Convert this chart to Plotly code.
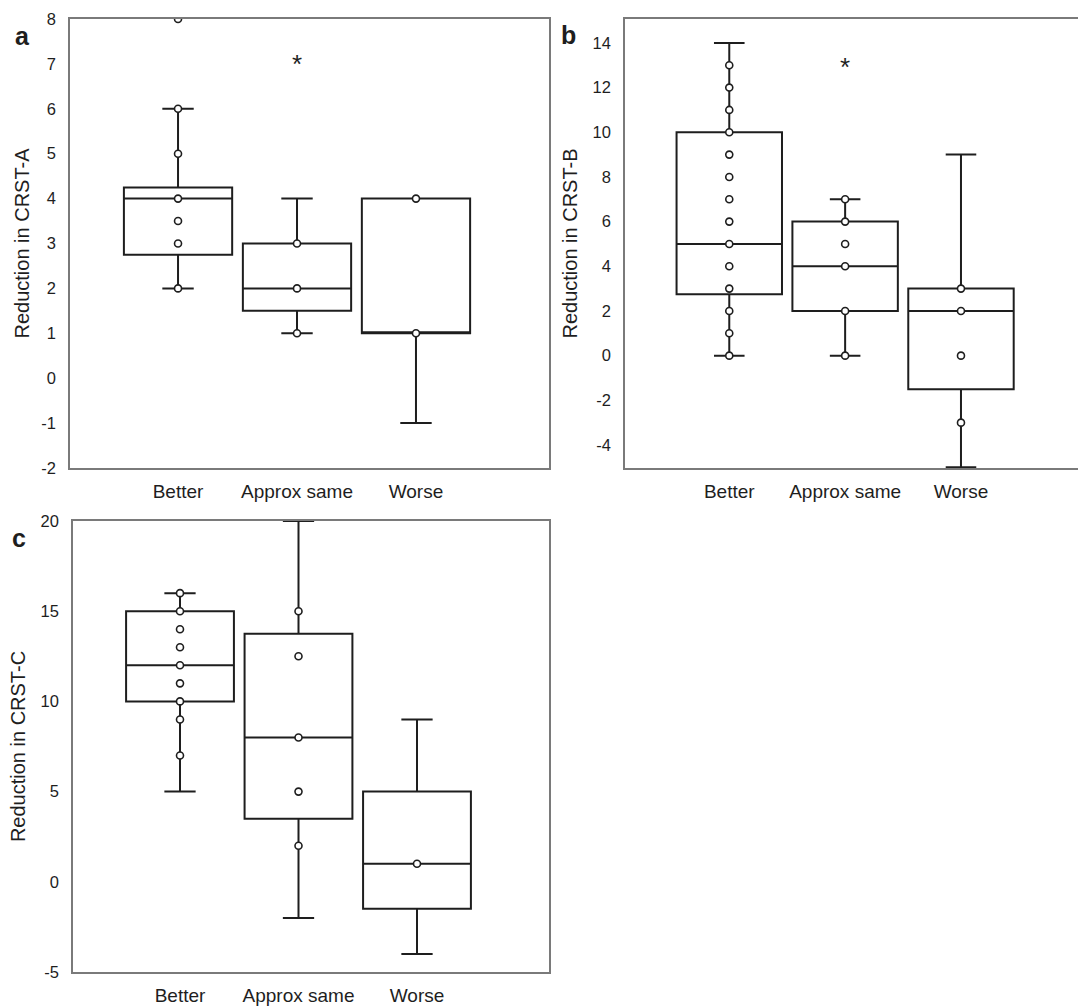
import plotly.graph_objects as go

categories = ["Better", "Approx same", "Worse"]
positions = [0, 1, 2]

# Panel a: CRST-A
a_q1 = [2.75, 1.5, 1.0]
a_median = [4.0, 2.0, 1.0]
a_q3 = [4.25, 3.0, 4.0]
a_low = [2.0, 1.0, -1.0]
a_high = [6.0, 4.0, 4.0]
a_points = [[8, 6, 5, 4, 3.5, 3, 2], [3, 2, 1], [4, 1]]

# Panel b: CRST-B
b_q1 = [2.75, 2.0, -1.5]
b_median = [5.0, 4.0, 2.0]
b_q3 = [10.0, 6.0, 3.0]
b_low = [0.0, 0.0, -5.0]
b_high = [14.0, 7.0, 9.0]
b_points = [[13, 12, 11, 10, 9, 8, 7, 6, 5, 4, 3, 2, 1, 0], [7, 6, 5, 4, 2, 0], [3, 2, 0, -3]]

# Panel c: CRST-C
c_q1 = [10.0, 3.5, -1.5]
c_median = [12.0, 8.0, 1.0]
c_q3 = [15.0, 13.75, 5.0]
c_low = [5.0, -2.0, -4.0]
c_high = [16.0, 20.0, 9.0]
c_points = [[16, 15, 14, 13, 12, 11, 10, 9, 7], [15, 12.5, 8, 5, 2], [1]]

a_ticks = [-2, -1, 0, 1, 2, 3, 4, 5, 6, 7, 8]
b_ticks = [-4, -2, 0, 2, 4, 6, 8, 10, 12, 14]
c_ticks = [-5, 0, 5, 10, 15, 20]

a_star = 7.0
b_star = 12.9

FONT = "Liberation Sans, Arial, sans-serif"
INK = "#1e1e1e"
FRAME = "#7a7a7a"

fig = go.Figure()

panels = [
    ("x", "y", a_q1, a_median, a_q3, a_low, a_high, a_points),
    ("x2", "y2", b_q1, b_median, b_q3, b_low, b_high, b_points),
    ("x3", "y3", c_q1, c_median, c_q3, c_low, c_high, c_points),
]

for xa, ya, q1, med, q3, lo, hi, pts in panels:
    fig.add_trace(go.Box(
        x=positions, q1=q1, median=med, q3=q3, lowerfence=lo, upperfence=hi,
        width=0.91, whiskerwidth=0.29, boxpoints=False,
        line=dict(color=INK, width=2), fillcolor="rgba(255,255,255,0)",
        xaxis=xa, yaxis=ya, showlegend=False, hoverinfo="skip",
    ))
    xs, ys = [], []
    for p, vals in zip(positions, pts):
        for v in vals:
            xs.append(p)
            ys.append(v)
    fig.add_trace(go.Scatter(
        x=xs, y=ys, mode="markers",
        marker=dict(symbol="circle", size=7, color="white",
                    line=dict(color=INK, width=1.6)),
        xaxis=xa, yaxis=ya, showlegend=False, hoverinfo="skip",
    ))

def xax(domain, rng, anchor):
    return dict(domain=domain, range=rng, tickvals=positions, ticktext=categories,
                showline=True, mirror=True, linecolor=FRAME, linewidth=1.5,
                showgrid=False, zeroline=False, ticks="", ticklabelstandoff=5,
                automargin=False,
                tickfont=dict(family=FONT, size=19, color=INK), anchor=anchor)

def yax(domain, rng, ticks, title, anchor, standoff):
    return dict(domain=domain, range=rng, tickvals=ticks,
                ticktext=[str(t) for t in ticks],
                showline=True, mirror=True, linecolor=FRAME, linewidth=1.5,
                showgrid=False, zeroline=False, ticks="", ticklabelstandoff=9,
                automargin=False,
                tickfont=dict(family=FONT, size=16.5, color=INK),
                title=dict(text=title, font=dict(family=FONT, size=20, color=INK),
                           standoff=standoff),
                anchor=anchor)

fig.update_layout(
    template="none",
    width=1078, height=1006,
    margin=dict(l=0, r=0, t=0, b=0, autoexpand=False),
    paper_bgcolor="white", plot_bgcolor="white",
    xaxis=xax([70/1078, 549/1078], [-0.908, 3.118], "y"),
    yaxis=yax([1-468/1006, 1-19/1006], [-2, 8], a_ticks, "Reduction in CRST-A", "x", 6),
    xaxis2=xax([625/1078, 1.0], [-0.9, 3.01], "y2"),
    yaxis2=yax([1-468/1006, 1-19/1006], [-5.03, 15.07], b_ticks, "Reduction in CRST-B", "x2", 10),
    xaxis3=xax([73/1078, 549/1078], [-0.903, 3.114], "y3"),
    yaxis3=yax([1-972/1006, 1-521/1006], [-5, 20], c_ticks, "Reduction in CRST-C", "x3", 10),
)

annotations = [
    dict(text="*", x=1, y=a_star, xref="x", yref="y", showarrow=False,
         xanchor="center", yanchor="middle",
         font=dict(family=FONT, size=26, color=INK)),
    dict(text="*", x=1, y=b_star, xref="x2", yref="y2", showarrow=False,
         xanchor="center", yanchor="middle",
         font=dict(family=FONT, size=26, color=INK)),
    dict(text="<b>a</b>", x=22/1078, y=1-36/1006, xref="paper", yref="paper",
         xanchor="center", yanchor="middle",
         showarrow=False, font=dict(family=FONT, size=25, color=INK)),
    dict(text="<b>b</b>", x=568/1078, y=1-35/1006, xref="paper", yref="paper",
         xanchor="center", yanchor="middle",
         showarrow=False, font=dict(family=FONT, size=25, color=INK)),
    dict(text="<b>c</b>", x=19/1078, y=1-538/1006, xref="paper", yref="paper",
         xanchor="center", yanchor="middle",
         showarrow=False, font=dict(family=FONT, size=25, color=INK)),
]
fig.update_layout(annotations=annotations)

fig.write_html("out.html")
